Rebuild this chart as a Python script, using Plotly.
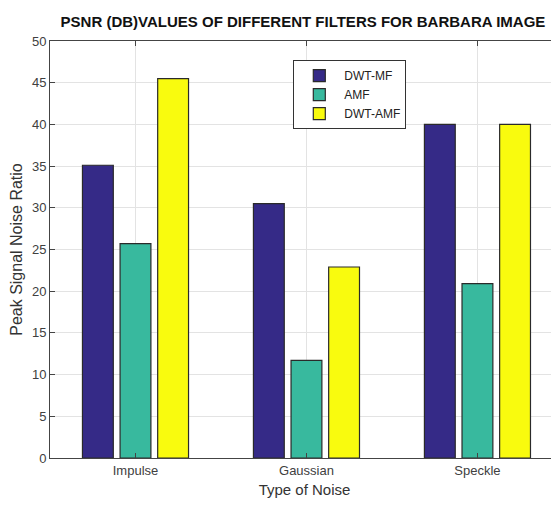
import plotly.graph_objects as go

categories = ["Impulse", "Gaussian", "Speckle"]
dwt_mf = [35.1, 30.5, 40.0]
amf = [25.7, 11.7, 20.9]
dwt_amf = [45.5, 22.9, 40.0]
series_names = ["DWT-MF", "AMF", "DWT-AMF"]
series_colors = ["#352a87", "#38b99e", "#f9fb0e"]
y_ticks = [0, 5, 10, 15, 20, 25, 30, 35, 40, 45, 50]

x_pos = [1, 2, 3]
fig = go.Figure()
for name, vals, col in zip(series_names, [dwt_mf, amf, dwt_amf], series_colors):
    fig.add_trace(go.Bar(
        x=x_pos, y=vals, name=name,
        marker=dict(color=col, line=dict(color="#2a2a2a", width=1.2)),
    ))

FONT = "Liberation Sans, Arial"
axis_font = dict(family=FONT, size=13, color="#404040")
# the page body has an 8px margin, so the figure is smaller and margins shifted
fig.update_layout(
    width=551, height=490,
    margin=dict(l=42, r=0, t=33, b=40, autoexpand=False),
    paper_bgcolor="white", plot_bgcolor="white",
    barmode="group", bargap=0.34, bargroupgap=0.18,
    title=dict(
        text="<b>PSNR (DB)VALUES OF DIFFERENT FILTERS FOR BARBARA IMAGE</b>",
        x=0.497, xanchor="center", xref="paper", y=0.9714, yanchor="middle", yref="container",
        font=dict(family=FONT, size=15, color="#111"),
    ),
    xaxis=dict(
        range=[0.5, 3.477], tickvals=x_pos, ticktext=categories,
        showgrid=True, gridcolor="#e3e3e3", gridwidth=1,
        showline=True, linecolor="#444", linewidth=1, mirror="ticks",
        ticks="inside", ticklen=5, tickcolor="#444",
        tickfont=axis_font, automargin=False,
        title=dict(text="Type of Noise", font=dict(family=FONT, size=15, color="#333"), standoff=13),
        zeroline=False,
    ),
    yaxis=dict(
        range=[0, 50], tickvals=y_ticks,
        showgrid=True, gridcolor="#e3e3e3", gridwidth=1,
        showline=True, linecolor="#444", linewidth=1, mirror="ticks",
        ticks="inside", ticklen=5, tickcolor="#444",
        tickfont=axis_font, automargin=False,
        title=dict(text="Peak Signal Noise Ratio", font=dict(family=FONT, size=16, color="#333"), standoff=8),
        zeroline=False,
    ),
    legend=dict(
        x=0.478, y=0.954, xanchor="left", yanchor="top",
        bordercolor="#333", borderwidth=1, bgcolor="white",
        font=dict(family=FONT, size=12, color="#222"),
        tracegroupgap=0, itemwidth=40,
    ),
)

fig.write_html("out.html")
